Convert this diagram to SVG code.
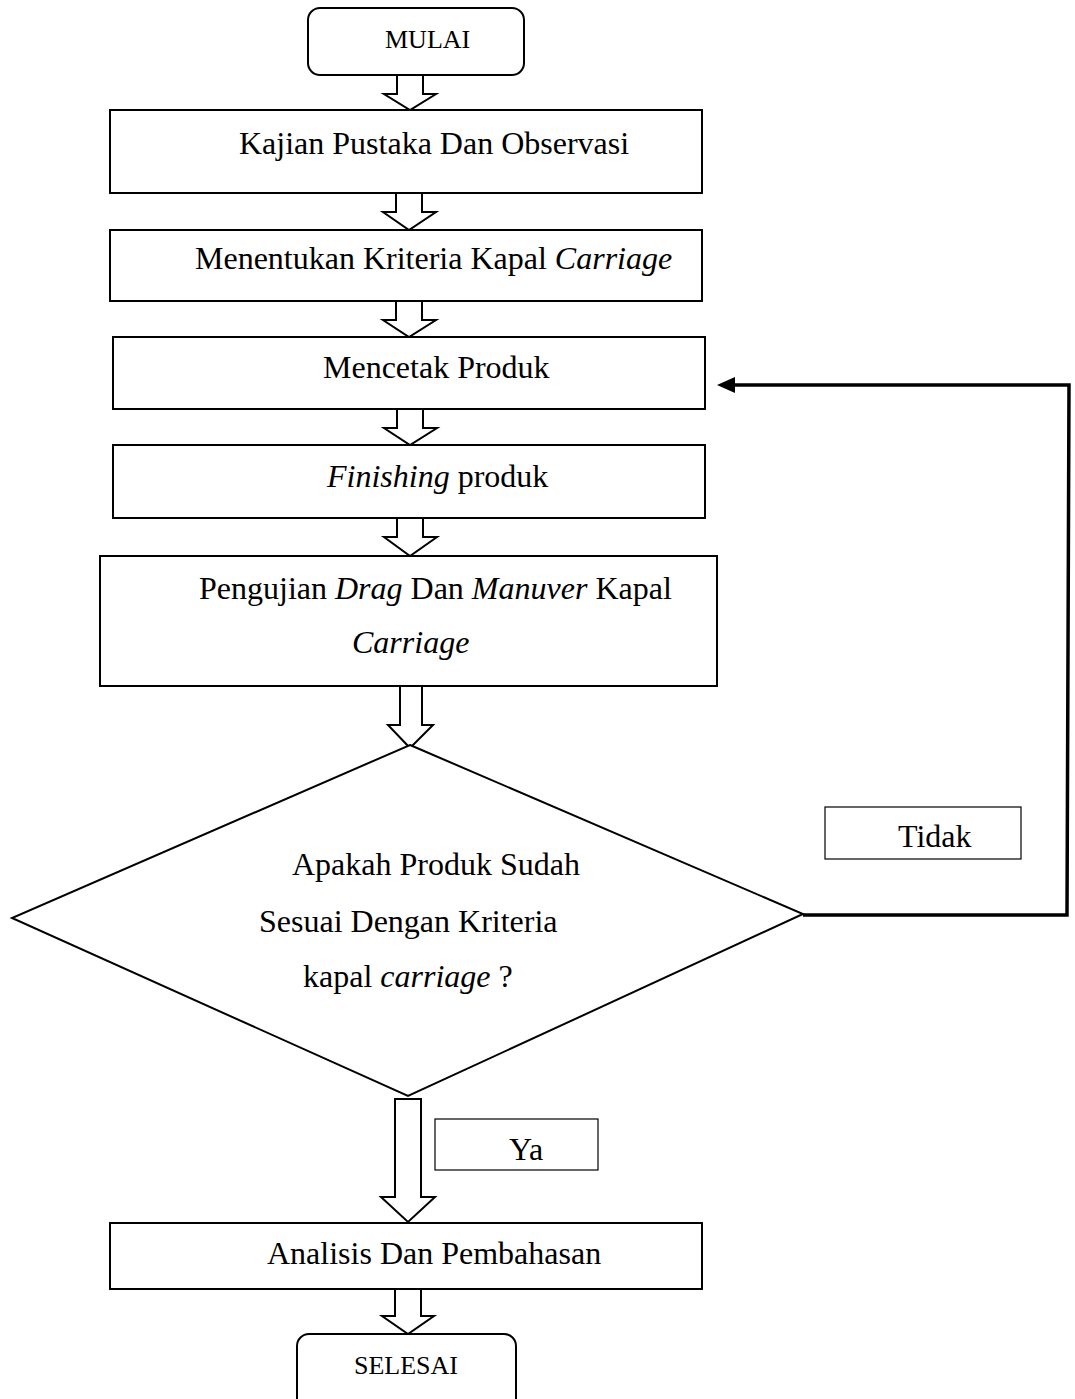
<svg xmlns="http://www.w3.org/2000/svg" width="1075" height="1399" viewBox="0 0 1075 1399">
<style>
.box{fill:#fff;stroke:#000;stroke-width:2}
.lbl{fill:#fff;stroke:#000;stroke-width:1.2}
.arr{fill:#fff;stroke:#000;stroke-width:2;stroke-linejoin:miter}
.t{font-family:"Liberation Serif","Times New Roman",serif;font-size:32px;fill:#000}
.s{font-family:"Liberation Serif","Times New Roman",serif;font-size:26px;fill:#000}
.i{font-style:italic}
</style>
<rect width="1075" height="1399" fill="#fff"/>
<g id="connectors">
<polygon class="arr" points="397,75 423,75 423,94 436,94 410,110 384,94 397,94"/>
<polygon class="arr" points="396,193 422,193 422,212 436,212 409,230 383,212 396,212"/>
<polygon class="arr" points="396,301 422,301 422,320 436,320 409,337 383,320 396,320"/>
<polygon class="arr" points="397,409 423,409 423,428 437,428 410,445 384,428 397,428"/>
<polygon class="arr" points="397,518 423,518 423,537 437,537 410,556 384,537 397,537"/>
<polygon class="arr" points="400,686 422,686 422,725 433,725 410,748 388,725 400,725"/>
<polygon class="arr" points="395,1099 421,1099 421,1197 435,1197 408,1222 381,1197 395,1197"/>
<polygon class="arr" points="395,1289 421,1289 421,1316 434,1316 408,1334 382,1316 395,1316"/>
<polyline points="803,915 1067,915 1069,385 732,385" fill="none" stroke="#000" stroke-width="3.5"/>
<polygon points="717,385 735,377 735,393" fill="#000"/>
</g>
<g id="mulai">
<rect class="box" x="308" y="8" width="216" height="67" rx="12"/>
<text class="s" x="385" y="48">MULAI</text>
</g>
<g id="kajian">
<rect class="box" x="110" y="110" width="592" height="83"/>
<text class="t" x="239" y="154">Kajian Pustaka Dan Observasi</text>
</g>
<g id="kriteria">
<rect class="box" x="110" y="230" width="592" height="71"/>
<text class="t" x="195" y="269">Menentukan Kriteria Kapal <tspan class="i">Carriage</tspan></text>
</g>
<g id="mencetak">
<rect class="box" x="113" y="337" width="592" height="72"/>
<text class="t" x="323" y="378">Mencetak Produk</text>
</g>
<g id="finishing">
<rect class="box" x="113" y="445" width="592" height="73"/>
<text class="t" x="327" y="487"><tspan class="i">Finishing</tspan> produk</text>
</g>
<g id="pengujian">
<rect class="box" x="100" y="556" width="617" height="130"/>
<text class="t" x="199" y="599">Pengujian <tspan class="i">Drag</tspan> Dan <tspan class="i">Manuver</tspan> Kapal</text>
<text class="t i" x="352" y="653">Carriage</text>
</g>
<g id="keputusan">
<polygon class="box" points="410,745 803,914 408,1096 12,918"/>
<text class="t" x="292" y="875">Apakah Produk Sudah</text>
<text class="t" x="259" y="932">Sesuai Dengan Kriteria</text>
<text class="t" x="303" y="987">kapal <tspan class="i">carriage</tspan> ?</text>
</g>
<g id="tidak">
<rect class="lbl" x="825" y="807" width="196" height="52"/>
<text class="t" x="898" y="847">Tidak</text>
</g>
<g id="ya">
<rect class="lbl" x="435" y="1119" width="163" height="51"/>
<text class="t" x="509" y="1160">Ya</text>
</g>
<g id="analisis">
<rect class="box" x="110" y="1223" width="592" height="66"/>
<text class="t" x="267" y="1264">Analisis Dan Pembahasan</text>
</g>
<g id="selesai">
<rect class="box" x="297" y="1334" width="219" height="80" rx="12"/>
<text class="s" x="354" y="1374">SELESAI</text>
</g>
</svg>
